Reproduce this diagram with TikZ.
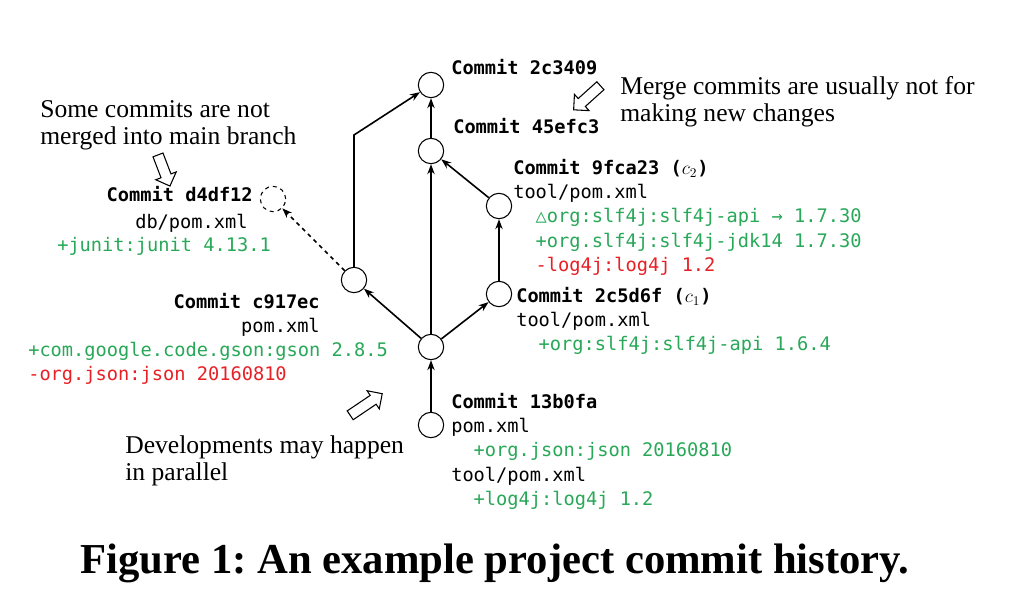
\documentclass[tikz,border=0pt]{standalone}
\usepackage{fontspec}
\setmainfont{Liberation Serif}
\setmonofont{DejaVu Sans Mono}
\usetikzlibrary{shapes.arrows, arrows.meta}
\definecolor{addgreen}{RGB}{40,168,88}
\definecolor{delred}{RGB}{232,32,38}

\begin{document}
\begin{tikzpicture}[>={Stealth[length=7.5pt,width=5.5pt]}, x=0.75pt, y=-0.75pt,
    commit/.style={circle, draw, line width=0.8pt, minimum size=19pt, inner sep=0pt},
    edge/.style={->, line width=1.2pt},
    code/.style={font=\ttfamily\fontsize{14}{18.2}\selectfont, align=left, inner sep=0pt},
    note/.style={font=\fontsize{19.2}{20.5}\selectfont, align=left, inner sep=0pt},
    hollow/.style={single arrow, draw, line width=0.8pt, inner xsep=0pt, inner ysep=3.6pt,
        single arrow head extend=4.2pt}]
    \useasboundingbox (0,0) rectangle (1014,609);

    % Commits of the history.
    \node[commit] (n2c3409) at (431,85) {};
    \node[commit] (n45efc3) at (431,151) {};
    \node[commit] (n9fca23) at (499,206) {};
    \node[commit] (n2c5d6f) at (499,294) {};
    \node[commit] (nfork) at (431,347) {};
    \node[commit] (nc917ec) at (354,280) {};
    \node[commit] (n13b0fa) at (431,425) {};
    \node[commit, dashed] (nd4df12) at (273,199) {};
    \coordinate (bend) at (354,135);

    % Parent links.
    \draw[edge] (n13b0fa) -- (nfork);
    \draw[edge] (nfork) -- (n45efc3);
    \draw[edge] (nfork) -- (nc917ec);
    \draw[edge] (nfork) -- (n2c5d6f);
    \draw[edge] (n2c5d6f) -- (n9fca23);
    \draw[edge] (n9fca23) -- (n45efc3);
    \draw[edge] (n45efc3) -- (n2c3409);
    \draw[edge] (nc917ec) -- (bend) -- (n2c3409);
    \draw[edge, dashed] (nc917ec) -- (nd4df12);

    % Commit labels and dependency changes.
    \node[code, anchor=north west] (t2c3409) at (451,59) {\textbf{Commit 2c3409}};
    \node[code, anchor=north west] (t45efc3) at (453,118) {\textbf{Commit 45efc3}};
    \node[code, anchor=north west] (t9fca23) at (513,159) {\textbf{Commit 9fca23 ($c_2$)}\\
        tool/pom.xml\\
        \hspace*{1.2em}\textcolor{addgreen}{△org:slf4j:slf4j-api → 1.7.30}\\
        \hspace*{1.2em}\textcolor{addgreen}{+org.slf4j:slf4j-jdk14 1.7.30}\\
        \hspace*{1.2em}\textcolor{delred}{-log4j:log4j 1.2}};
    \node[code, anchor=north west] (t2c5d6f) at (516,287) {\textbf{Commit 2c5d6f ($c_1$)}\\
        tool/pom.xml\\
        \hspace*{1.2em}\textcolor{addgreen}{+org:slf4j:slf4j-api 1.6.4}};
    \node[code, anchor=north west] (t13b0fa) at (451,393) {\textbf{Commit 13b0fa}\\
        pom.xml\\
        \hspace*{1.2em}\textcolor{addgreen}{+org.json:json 20160810}\\
        tool/pom.xml\\
        \hspace*{1.2em}\textcolor{addgreen}{+log4j:log4j 1.2}};
    \node[code, anchor=north east, align=right] (tc917ec) at (320,293)
        {\textbf{Commit c917ec}\\pom.xml};
    \node[code, anchor=north west] (tgson) at (28,342)
        {\textcolor{addgreen}{+com.google.code.gson:gson 2.8.5}\\
        \textcolor{delred}{-org.json:json 20160810}};
    \node[code, anchor=base east] (td4df12) at (253,202) {\textbf{Commit d4df12}};
    \node[code, anchor=base west] (tdbpom) at (135,229) {db/pom.xml};
    \node[code, anchor=base west] (tjunit) at (57,252) {\textcolor{addgreen}{+junit:junit 4.13.1}};

    % Remarks with hollow arrows.
    \node[note, anchor=north west] (rnotmerged) at (40,100) {Some commits are not\\merged into main branch};
    \node[note, anchor=north west] (rmerge) at (620,76) {Merge commits are usually not for\\making new changes};
    \node[note, anchor=north west] (rparallel) at (125,435) {Developments may happen\\in parallel};
    \node[hollow, minimum height=25pt, rotate=-69] (anotmerged) at (163,168) {};
    \node[hollow, minimum height=27pt, rotate=222] (amerge) at (589,96) {};
    \node[hollow, minimum height=29pt, rotate=34] (aparallel) at (364,406) {};

    % Caption.
    \node[font=\bfseries\fontsize{32}{34}\selectfont\frenchspacing, anchor=base] (caption) at (495,573)
        {Figure 1: An example project commit history.};
\end{tikzpicture}
\end{document}
